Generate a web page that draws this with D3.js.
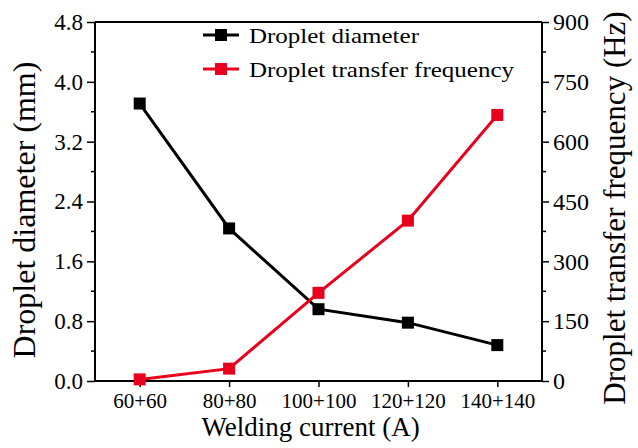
<!DOCTYPE html>
<html>
<head>
<meta charset="utf-8">
<script src="https://cdn.jsdelivr.net/npm/d3@7"></script>
<style>
  html, body { margin: 0; padding: 0; background: #fff; }
  svg { display: block; }
  text { font-family: "Liberation Serif", "Times New Roman", serif; fill: #000; }
</style>
</head>
<body>
<svg id="chart" width="638" height="448"></svg>
<script>
// Welding current settings (leading + trailing wire)
const categories = ["60+60", "80+80", "100+100", "120+120", "140+140"];
// Droplet diameter, mm
const diameter = [3.71, 2.04, 0.96, 0.78, 0.48];
// Droplet transfer frequency, Hz
const frequency = [4, 31, 221, 402, 667];

const leftTicks = [0.0, 0.8, 1.6, 2.4, 3.2, 4.0, 4.8];
const rightTicks = [0, 150, 300, 450, 600, 750, 900];

const margin = { left: 95, right: 96, top: 22, bottom: 67 };
const W = 638, H = 448;
const svg = d3.select("#chart");

const x = d3.scalePoint()
  .domain(categories)
  .range([margin.left, W - margin.right])
  .padding(0.5);
const yL = d3.scaleLinear().domain([0, 4.8]).range([H - margin.bottom, margin.top]);
const yR = d3.scaleLinear().domain([0, 900]).range([H - margin.bottom, margin.top]);

// Frame: top border line
svg.append("line")
  .attr("x1", margin.left).attr("x2", W - margin.right)
  .attr("y1", margin.top).attr("y2", margin.top)
  .attr("stroke", "#000").attr("stroke-width", 2);

// Left axis with minor ticks
const leftMinor = d3.range(0.4, 4.8, 0.8);
const gL = svg.append("g").attr("transform", `translate(${margin.left},0)`);
gL.call(d3.axisLeft(yL).tickValues(leftTicks).tickFormat(d3.format(".1f")).tickSize(8).tickPadding(4));
gL.selectAll(".minor").data(leftMinor).join("line")
  .attr("class", "minor")
  .attr("x1", -4).attr("x2", 0)
  .attr("y1", d => yL(d)).attr("y2", d => yL(d))
  .attr("stroke", "#000").attr("stroke-width", 1.5);

// Right axis with minor ticks
const rightMinor = d3.range(75, 900, 150);
const gR = svg.append("g").attr("transform", `translate(${W - margin.right},0)`);
gR.call(d3.axisRight(yR).tickValues(rightTicks).tickFormat(d3.format("d")).tickSize(7).tickPadding(4));
gR.selectAll(".minor").data(rightMinor).join("line")
  .attr("class", "minor")
  .attr("x1", 0).attr("x2", 4)
  .attr("y1", d => yR(d)).attr("y2", d => yR(d))
  .attr("stroke", "#000").attr("stroke-width", 1.5);

// Bottom axis
const gB = svg.append("g").attr("transform", `translate(0,${H - margin.bottom})`);
gB.call(d3.axisBottom(x).tickSize(6).tickPadding(6));

[[gL, 23], [gR, 24], [gB, 21]].forEach(([g, fs]) => {
  g.select(".domain").attr("stroke", "#000").attr("stroke-width", 2);
  g.selectAll(".tick line").attr("stroke", "#000").attr("stroke-width", 1.5);
  g.selectAll(".tick text")
    .style("font-family", "'Liberation Serif', 'Times New Roman', serif")
    .style("font-size", fs + "px")
    .attr("fill", "#000");
});
gL.select(".domain").attr("d", `M0,${margin.top}V${H - margin.bottom}`);
gR.select(".domain").attr("d", `M0,${margin.top}V${H - margin.bottom}`);
gB.select(".domain").attr("d", `M${margin.left},0H${W - margin.right}`);

// Series
const series = [
  { name: "Droplet diameter", values: diameter, y: yL, color: "#000000" },
  { name: "Droplet transfer frequency", values: frequency, y: yR, color: "#e8001c" }
];
const ms = 12;
series.forEach(s => {
  const line = d3.line().x((d, i) => x(categories[i])).y(d => s.y(d));
  svg.append("path").datum(s.values)
    .attr("d", line).attr("fill", "none")
    .attr("stroke", s.color).attr("stroke-width", 3);
  svg.append("g").selectAll("rect").data(s.values).join("rect")
    .attr("x", (d, i) => x(categories[i]) - ms / 2)
    .attr("y", d => s.y(d) - ms / 2)
    .attr("width", ms).attr("height", ms)
    .attr("fill", s.color);
});

// Legend
const legend = svg.append("g");
series.forEach((s, i) => {
  const ly = 35 + i * 34;
  legend.append("line")
    .attr("x1", 203).attr("x2", 239).attr("y1", ly).attr("y2", ly)
    .attr("stroke", s.color).attr("stroke-width", 3);
  legend.append("rect")
    .attr("x", 221 - 6).attr("y", ly - 6).attr("width", 12).attr("height", 12)
    .attr("fill", s.color);
  legend.append("text")
    .attr("transform", `translate(249,${ly + 8}) scale(1,0.88)`)
    .style("font-size", "25px")
    .text(s.name);
});

// Axis titles
svg.append("text")
  .attr("x", (margin.left + W - margin.right) / 2 - 8).attr("y", 436)
  .attr("text-anchor", "middle")
  .style("font-size", "27px")
  .text("Welding current (A)");

svg.append("text")
  .attr("transform", `translate(35,210) rotate(-90)`)
  .attr("text-anchor", "middle")
  .style("font-size", "32px")
  .text("Droplet diameter (mm)");

svg.append("text")
  .attr("transform", `translate(625,208) rotate(-90)`)
  .attr("text-anchor", "middle")
  .style("font-size", "31px")
  .text("Droplet transfer frequency (Hz)");
</script>
</body>
</html>
